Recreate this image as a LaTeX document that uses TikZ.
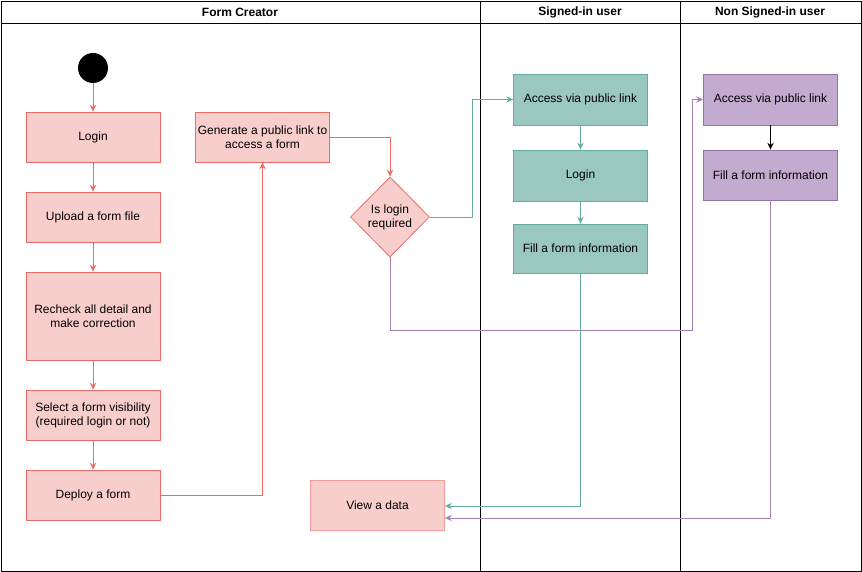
\documentclass[tikz,border=0pt]{standalone}
\usepackage{fontspec}
\setmainfont{Liberation Sans}
\usetikzlibrary{arrows.meta,shapes.geometric}
\definecolor{rfill}{HTML}{F8CECC}
\definecolor{rline}{HTML}{EA6B66}
\definecolor{rlight}{HTML}{F19C99}
\definecolor{gfill}{HTML}{9AC7BF}
\definecolor{gline}{HTML}{67AB9F}
\definecolor{pfill}{HTML}{C3ABD0}
\definecolor{pline}{HTML}{9673A6}
\definecolor{plink}{HTML}{A680B8}
\tikzset{
  box/.style={draw=rline, fill=rfill, minimum width=134pt, align=center, font=\fontsize{12}{14}\selectfont, inner sep=2pt, line width=0.8pt},
  gbox/.style={box, draw=gline, fill=gfill},
  pbox/.style={box, draw=pline, fill=pfill},
  hdr/.style={font=\bfseries\fontsize{12}{14}\selectfont},
  tip/.style={-{Stealth[length=7pt,width=6.5pt,inset=2.5pt]}},
  rarr/.style={tip, draw=rline, line width=0.8pt},
  garr/.style={tip, draw=gline, line width=0.8pt},
  parr/.style={tip, draw=plink, line width=0.8pt},
}
\begin{document}
\begin{tikzpicture}[x=1pt,y=-1pt]
\useasboundingbox (0,0) rectangle (862,572);
% frame and lanes
\draw[line width=0.8pt] (1,1) rectangle (861,571);
\draw[line width=0.8pt] (1,23) -- (861,23);
\draw[line width=0.8pt] (480,1) -- (480,571);
\draw[line width=0.8pt] (680,1) -- (680,571);
\node[hdr] (h1) at (240,12) {Form Creator};
\node[hdr] (h2) at (580,12) {Signed-in user};
\node[hdr] (h3) at (770,12) {Non Signed-in user};
% start
\node[circle, fill=black, minimum size=30pt, inner sep=0pt] (start) at (93,68) {};
% form creator column
\node[box, minimum height=50pt] (login) at (93,137) {Login};
\node[box, minimum height=50pt] (upload) at (93,217) {Upload a form file};
\node[box, minimum height=88pt] (recheck) at (93,316) {Recheck all detail and\\make correction};
\node[box, minimum height=50pt] (select) at (93,415) {Select a form visibility\\(required login or not)};
\node[box, minimum height=50pt] (deploy) at (93,495) {Deploy a form};
\node[box, minimum height=50pt] (gen) at (262.5,137) {Generate a public link to\\access a form};
\node[diamond, draw=rline, fill=rfill, line width=0.8pt, minimum width=79pt, minimum height=80pt, inner sep=0pt, align=center, font=\fontsize{12}{14}\selectfont] (dia) at (390,217) {Is login\\required};
\node[box, draw=rlight, minimum height=50pt] (view) at (377.5,505) {View a data};
% signed-in
\node[gbox, minimum height=51pt] (gacc) at (580.5,99.5) {Access via public link};
\node[gbox, minimum height=51pt] (glog) at (580.5,175.5) {Login};
\node[gbox, minimum height=49pt] (gfill) at (580.5,248.5) {Fill a form information};
% non signed-in
\node[pbox, minimum height=51pt] (pacc) at (770.5,99.5) {Access via public link};
\node[pbox, minimum height=50pt] (pfill) at (770.5,175) {Fill a form information};
% arrows
\draw[rarr] (start) -- (login);
\draw[rarr] (login) -- (upload);
\draw[rarr] (upload) -- (recheck);
\draw[rarr] (recheck) -- (select);
\draw[rarr] (select) -- (deploy);
\draw[rarr] (deploy.east) -| (gen.south);
\draw[rarr] (gen.east) -| (dia.north);
\draw[garr] (dia.east) -- (472,217) |- (gacc.west);
\draw[garr] (gacc) -- (glog);
\draw[garr] (glog) -- (gfill);
\draw[parr] (dia.south) |- (692,330) |- (pacc.west);
\draw[tip, line width=0.8pt] (pacc) -- (pfill);
\draw[garr] (gfill.south) |- ([yshift=-1pt]view.east);
\draw[parr] (pfill.south) |- ([yshift=-13pt]view.east);
\end{tikzpicture}
\end{document}
